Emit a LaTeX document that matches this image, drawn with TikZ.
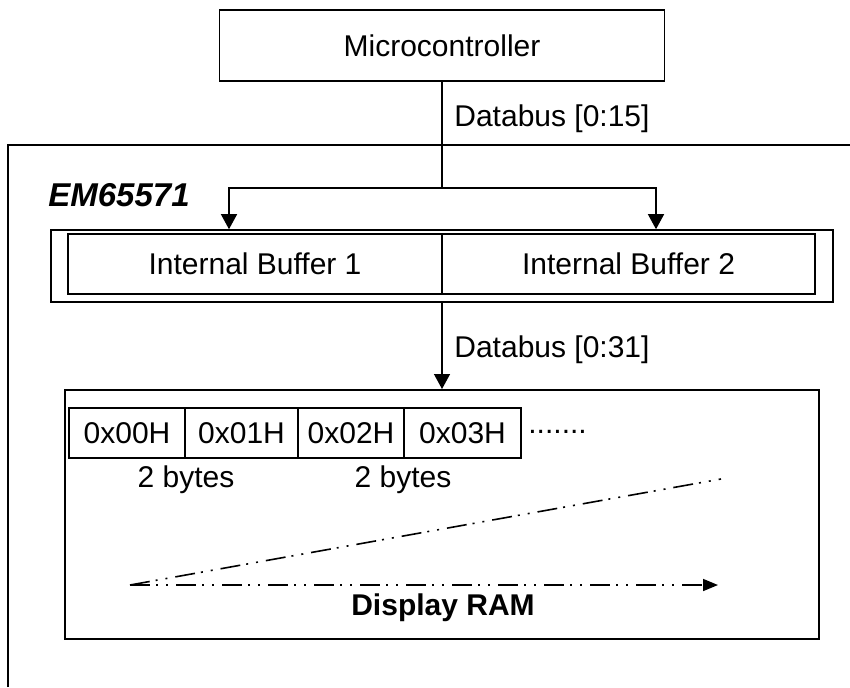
\documentclass[tikz,border=0pt]{standalone}
\usepackage{fontspec}
\setmainfont{Liberation Sans}
\usetikzlibrary{arrows.meta}
\tikzset{
  box/.style={draw,line width=0.8pt,inner sep=0pt,font=\fontsize{15}{18}\selectfont},
  lbl/.style={inner sep=0pt,anchor=base west,font=\fontsize{15}{18}\selectfont},
  bus/.style={line width=0.7pt,-{Triangle[length=7.5pt,width=8pt]}},
  dashdot/.style={line width=0.8pt,dash pattern=on 10pt off 3pt on 1pt off 4pt on 1pt off 4pt}
}
\begin{document}
\begin{tikzpicture}[x=0.5pt,y=-0.5pt]
  \useasboundingbox (0,0) rectangle (850,687);
  % chip outline, cut at right and bottom
  \draw[line width=1.3pt] (8,687) -- (8,145) -- (850,145);
  \node[lbl,font=\fontsize{16.5}{20}\selectfont\bfseries\itshape] (chip) at (48,206) {EM65571};

  \node[box,minimum width=222.5pt,minimum height=35.5pt] (mcu) at (442,45.5) {Microcontroller};
  \node[box,minimum width=391pt,minimum height=36pt] (bufo) at (442,266) {};
  \node[box,minimum width=187pt,minimum height=30pt] (buf1) at (255,264) {Internal Buffer 1};
  \node[box,minimum width=186.5pt,minimum height=30pt] (buf2) at (628.5,264) {Internal Buffer 2};
  \node[box,line width=1pt,minimum width=377pt,minimum height=124.5pt] (ram) at (442,514.5) {};

  % memory cells
  \node[box,minimum width=58pt,minimum height=25pt] (c0) at (127,433) {0x00H};
  \node[box,minimum width=56.5pt,minimum height=25pt] (c1) at (241.5,433) {0x01H};
  \node[box,minimum width=53pt,minimum height=25pt] (c2) at (351,433) {0x02H};
  \node[box,minimum width=58.5pt,minimum height=25pt] (c3) at (462.5,433) {0x03H};
  \node[lbl] (more) at (528,433) {.......};
  \node[lbl,anchor=base] (b01) at (186,487) {2 bytes};
  \node[lbl,anchor=base] (b23) at (403,487) {2 bytes};

  \node[lbl] (db16) at (454,126) {Databus [0:15]};
  \node[lbl] (db32) at (454,357) {Databus [0:31]};
  \node[lbl,anchor=base,font=\fontsize{15}{18}\selectfont\bfseries] (ramtxt) at (443,615) {Display RAM};

  \coordinate (jn) at (442,188);
  \coordinate (jl) at (229,188);
  \coordinate (jr) at (656,188);
  \coordinate (scan) at (130,585);
  \coordinate (scanup) at (721,479);
  \coordinate (scanend) at (718,585);

  \begin{scope}[line width=0.7pt]
    \draw (mcu.south) -- (jn);
    \draw[bus] (jn) -- (jl) -- (jl |- bufo.north);
    \draw[bus] (jn) -- (jr) -- (jr |- bufo.north);
    \draw[bus] (bufo.south) -- (ram.north);
  \end{scope}
  \draw[dashdot] (scan) -- (scanup);
  \draw[dashdot,-{Triangle[length=7.5pt,width=6pt]}] (scan) -- (scanend);
\end{tikzpicture}
\end{document}
